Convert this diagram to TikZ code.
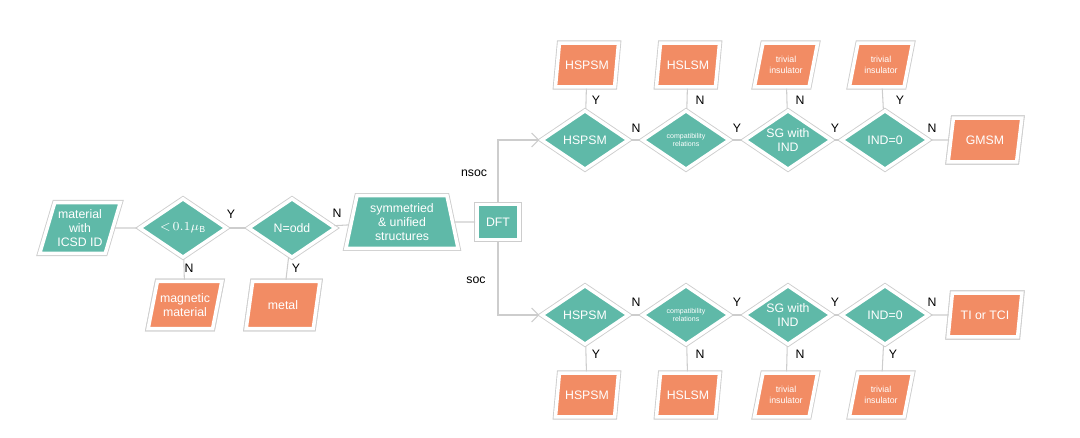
\documentclass[tikz,border=0pt]{standalone}
\usepackage{fontspec}
\setmainfont{Liberation Sans}
\usetikzlibrary{shapes.geometric,arrows.meta}
\definecolor{tealbox}{RGB}{95,185,168}
\definecolor{orangebox}{RGB}{242,140,100}
\definecolor{rim}{RGB}{205,205,205}
\tikzset{
  rimmed/.style={preaction={draw=rim,line width=3pt},draw=white,line width=2pt,
    text=white,align=center,font=\scriptsize,inner sep=0pt},
  para/.style={rimmed,trapezium,trapezium left angle=70,trapezium right angle=110,
    trapezium stretches=true,minimum width=#1,minimum height=25pt},
  para/.default=40pt,
  dec/.style={rimmed,diamond,aspect=1.45,minimum width=50pt,minimum height=34pt,fill=tealbox},
  res/.style={para=36pt,fill=orangebox},
  wire/.style={draw=rim,line width=0.6pt},
  lbl/.style={font=\scriptsize}
}
\begin{document}
\begin{tikzpicture}[x=0.02cm,y=-0.02cm]
\useasboundingbox (0,0) rectangle (1080,438);
% left part
\node[para=46pt,minimum height=29pt,fill=tealbox] (mat) at (80,228) {material\\with\\ICSD ID};
\node[dec] (mu) at (183,228) {\rmfamily$<\!0.1\mu_{\mathrm B}$};
\node[dec] (odd) at (292,228) {N=odd};
\node[rimmed,trapezium,trapezium angle=78,trapezium stretches=true,minimum width=64pt,
  minimum height=30pt,fill=tealbox] (sym) at (402,222) {symmetried\\\& unified\\structures};
\node[rimmed,rectangle,minimum width=24pt,minimum height=20pt,fill=tealbox] (dft) at (498,222) {DFT};
\node[res,para=42pt,minimum height=27pt] (mag) at (185,305) {magnetic\\material};
\node[res,para=42pt,minimum height=27pt] (met) at (283,305) {metal};
\draw[wire] (mat) -- (mu);
\draw[wire] (mu) -- (odd);
\draw[wire] (odd) -- (sym);
\draw[wire] (sym) -- (dft);
\draw[wire] (mu) -- (mag);
\draw[wire] (odd) -- (met);
\node[lbl] at (231,214) {Y};
\node[lbl] at (189,268) {N};
\node[lbl] at (296,268) {Y};
\node[lbl] at (337,213) {N};
\node[lbl] at (474,173) {nsoc};
\node[lbl] at (476,280) {soc};
% upper row
\node[dec] (ha) at (585,140) {HSPSM};
\node[dec,font=\fontsize{4}{5}\selectfont] (ca) at (686,140) {compatibility\\relations};
\node[dec] (sa) at (788,140) {SG with\\IND};
\node[dec] (ia) at (885,140) {IND=0};
\node[res,para=42pt] (ga) at (985,140) {GMSM};
\node[res] (ra) at (587,65) {HSPSM};
\node[res] (la) at (688,65) {HSLSM};
\node[res,font=\tiny] (ta) at (786,65) {trivial\\insulator};
\node[res,font=\tiny] (ua) at (881,65) {trivial\\insulator};
% lower row
\node[dec] (hb) at (585,315) {HSPSM};
\node[dec,font=\fontsize{4}{5}\selectfont] (cb) at (686,315) {compatibility\\relations};
\node[dec] (sb) at (788,315) {SG with\\IND};
\node[dec] (ib) at (885,315) {IND=0};
\node[res,para=42pt] (gb) at (985,315) {TI or TCI};
\node[res] (rb) at (587,395) {HSPSM};
\node[res] (lb) at (688,395) {HSLSM};
\node[res,font=\tiny] (tb) at (786,395) {trivial\\insulator};
\node[res,font=\tiny] (ub) at (881,395) {trivial\\insulator};
\draw[wire,-{Straight Barb[length=4pt]}] (dft.north) |- (ha.west);
\draw[wire,-{Straight Barb[length=4pt]}] (dft.south) |- (hb.west);
\foreach \r in {a,b} {
  \draw[wire] (h\r) -- (c\r);
  \draw[wire] (c\r) -- (s\r);
  \draw[wire] (s\r) -- (i\r);
  \draw[wire] (i\r) -- (g\r);
  \draw[wire] (h\r) -- (r\r);
  \draw[wire] (c\r) -- (l\r);
  \draw[wire] (s\r) -- (t\r);
  \draw[wire] (i\r) -- (u\r);
}
\foreach \x/\t in {596/Y,700/N,800/N,900/Y} \node[lbl] at (\x,100) {\t};
\foreach \x/\t in {636/N,737/Y,835/Y,932/N} \node[lbl] at (\x,128) {\t};
\foreach \x/\t in {636/N,737/Y,835/Y,932/N} \node[lbl] at (\x,302) {\t};
\foreach \x/\t in {596/Y,700/N,800/N,893/Y} \node[lbl] at (\x,354) {\t};
\end{tikzpicture}
\end{document}
